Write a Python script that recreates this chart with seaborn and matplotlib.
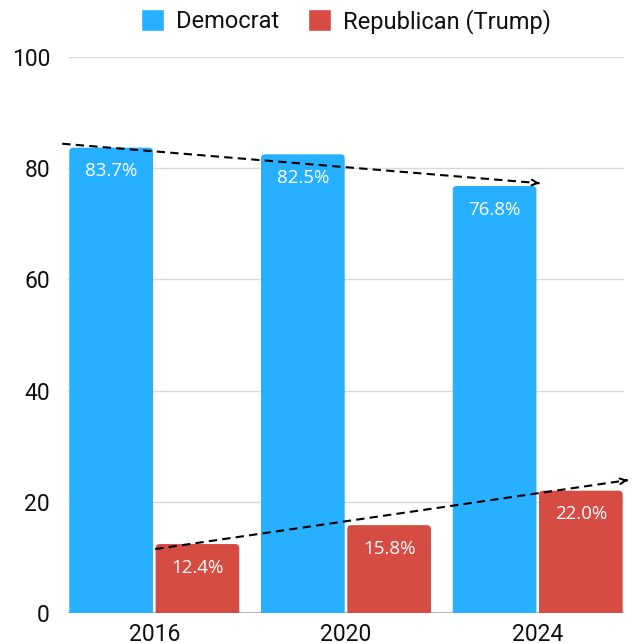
import matplotlib
matplotlib.use("Agg")
import matplotlib.pyplot as plt
import seaborn as sns
import pandas as pd
from matplotlib.patches import FancyBboxPatch

years = ["2016", "2020", "2024"]
parties = ["Democrat", "Republican (Trump)"]
democrat = [83.7, 82.5, 76.8]
republican = [12.4, 15.8, 22.0]
colors = ["#26B0FF", "#D64C42"]
y_ticks = [0, 20, 40, 60, 80, 100]
# hand-drawn trend arrows (start, end) in category / value units
dem_trend = [(-0.48, 84.4), (2.01, 77.3)]
rep_trend = [(0.005, 11.5), (2.47, 23.9)]

df = pd.DataFrame({
    "year": years * 2,
    "party": [parties[0]] * 3 + [parties[1]] * 3,
    "value": democrat + republican,
})

sns.set_theme(style="white")
plt.rcParams["font.family"] = ["Roboto", "DejaVu Sans"]

fig = plt.figure(figsize=(6.34, 6.43), dpi=100)
ax = fig.add_axes([68 / 634, 1 - 613 / 643, (624 - 68) / 634, (613 - 57) / 643])

sns.barplot(data=df, x="year", y="value", hue="party", palette=colors,
            width=0.9, gap=0.03, ax=ax, saturation=1, zorder=3)

ax.set_xlim(-0.45, 2.45)
ax.set_ylim(0, 100)

# rounded top corners
xs_per_px = (ax.get_xlim()[1] - ax.get_xlim()[0]) / ((624 - 68))
ys_per_px = 100 / (613 - 57)
bars = list(ax.patches)
for p in bars:
    x, w, h = p.get_x(), p.get_width(), p.get_height()
    if w <= 0 or h <= 0:
        continue
    fc = p.get_facecolor()
    p.set_visible(False)
    fb = FancyBboxPatch((x, -2), w, h + 2,
                        boxstyle="round,pad=0,rounding_size=%f" % (4 * xs_per_px),
                        mutation_aspect=ys_per_px / xs_per_px,
                        facecolor=fc, edgecolor="none", zorder=3)
    ax.add_patch(fb)
    ax.annotate(f"{h:.1f}%", xy=(x + w / 2, h), xytext=(0, -17),
                textcoords="offset points", ha="center", va="center",
                color="white", fontsize=13.5, family=["Open Sans", "DejaVu Sans"],
                zorder=5)

ax.set_yticks(y_ticks)
ax.yaxis.grid(True, color="#d9d9d9", lw=1, zorder=0)
ax.axhline(0, color="#aaaaaa", lw=1.2, zorder=1)
for s in ax.spines.values():
    s.set_visible(False)
ax.tick_params(axis="both", length=0, labelsize=16.5, colors="#111111")
ax.tick_params(axis="y", pad=13)
ax.tick_params(axis="x", pad=7)
ax.set_xlabel("")
ax.set_ylabel("")

for (x0, y0), (x1, y1) in (dem_trend, rep_trend):
    ax.plot([x0, x1], [y0, y1], ls=(0, (4, 2.5)), color="black", lw=1.5,
            clip_on=False, zorder=6)
    dx, dy = x1 - x0, y1 - y0
    ax.annotate("", xy=(x1, y1), xytext=(x1 - dx * 0.01, y1 - dy * 0.01),
                arrowprops=dict(arrowstyle="->", color="black", lw=1.5,
                                mutation_scale=10),
                annotation_clip=False, zorder=6)

leg = ax.legend(loc="lower center", bbox_to_anchor=(0.5, 1.025), ncol=2,
                frameon=False, fontsize=17, handlelength=1.0, handleheight=1.0,
                handletextpad=0.5, columnspacing=1.2, borderaxespad=0)
for t in leg.get_texts():
    t.set_color("#111111")

fig.savefig("out.png", dpi=100)
